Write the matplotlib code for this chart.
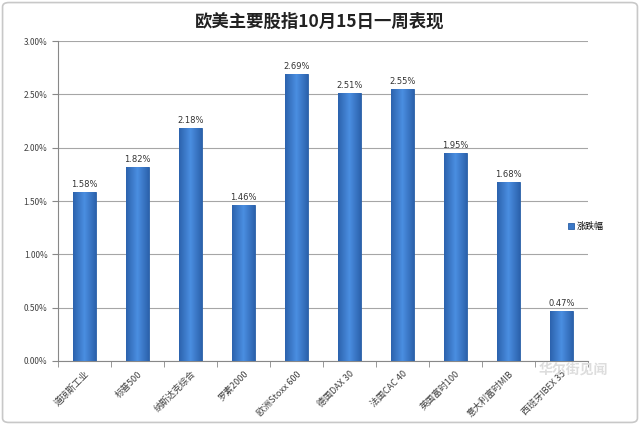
import numpy as np
import matplotlib.pyplot as plt
from matplotlib.patches import FancyBboxPatch
from matplotlib.ticker import FuncFormatter, MultipleLocator

plt.rcParams['font.family'] = ['Noto Sans CJK SC', 'DejaVu Sans']

# data
indices = ['道琼斯工业', '标普500', '纳斯达克综合', '罗素2000', '欧洲Stoxx 600',
           '德国DAX 30', '法国CAC 40', '英国富时100', '意大利富时MIB', '西班牙IBEX 35']
changes = [1.58, 1.82, 2.18, 1.46, 2.69, 2.51, 2.55, 1.95, 1.68, 0.47]
series_name = '涨跌幅'
title = '欧美主要股指10月15日一周表现'

fig = plt.figure(figsize=(6.4, 4.25), dpi=100)
fig.patch.set_facecolor('white')
# light rounded frame around the whole chart
fig.patches.append(FancyBboxPatch((0.004, 0.006), 0.992, 0.988,
                                  boxstyle='round,pad=0,rounding_size=0.01',
                                  transform=fig.transFigure, fill=False,
                                  edgecolor='#c8c8c8', linewidth=1.2))

ax = fig.add_axes([0.0906, 0.1506, 0.828, 0.7529])
x = np.arange(len(indices))
bars = ax.bar(x, changes, width=0.42, color='#3a78c8', edgecolor='#2a5fa5',
              linewidth=0.6, zorder=3, label=series_name)

# horizontal gradient on each bar (lighter in the middle)
grad = np.linspace(0, 1, 64)
grad = 1 - np.abs(grad - 0.5) * 2
grad = grad.reshape(1, -1)
from matplotlib.colors import LinearSegmentedColormap
cmap = LinearSegmentedColormap.from_list('b', ['#2c62ad', '#4a8ee0'])
for b in bars:
    im = ax.imshow(grad, cmap=cmap, aspect='auto', zorder=3.5,
                   extent=[b.get_x(), b.get_x() + b.get_width(), 0, b.get_height()])
    im.set_clip_path(b)

for xi, v in zip(x, changes):
    ax.text(xi, v + 0.03, f'{v:.2f}%', ha='center', va='bottom', fontsize=6,
            color='#333333', family=['DejaVu Sans'], zorder=5)

ax.set_xlim(-0.5, len(indices) - 0.5)
ax.set_ylim(0, 3.0)
ax.yaxis.set_major_locator(MultipleLocator(0.5))
ax.yaxis.set_major_formatter(FuncFormatter(lambda v, p: f'{v:.2f}%'))
ax.grid(axis='y', color='#a6a6a6', linewidth=0.8, zorder=0)
ax.set_axisbelow(True)

ax.set_xticks(x)
ax.set_xticklabels(indices, rotation=45, ha='right', rotation_mode='anchor',
                   fontsize=6.5, color='#404040')
ax.tick_params(axis='x', length=0, pad=6)
ax.set_xticks(np.arange(len(indices) + 1) - 0.5, minor=True)
ax.tick_params(axis='x', which='minor', length=4, color='#888888')
ax.tick_params(axis='y', labelsize=6, colors='#404040', length=4, color='#888888')

for s in ['top', 'right']:
    ax.spines[s].set_visible(False)
ax.spines['left'].set_color('#888888')
ax.spines['bottom'].set_color('#888888')

fig.text(0.5, 0.948, title, ha='center', va='center', fontsize=12.5,
         fontweight='bold', color='#222222')

leg = fig.legend(handles=[bars], labels=[series_name], loc='center left',
                 bbox_to_anchor=(0.875, 0.467), frameon=False, fontsize=6.5,
                 handlelength=0.6, handleheight=0.6, handletextpad=0.4)

# watermark
fig.text(0.895, 0.131, '华尔街见闻', ha='center', va='center', fontsize=10,
         color='#dddddd', fontweight='bold')

plt.savefig('out.png', dpi=100)
